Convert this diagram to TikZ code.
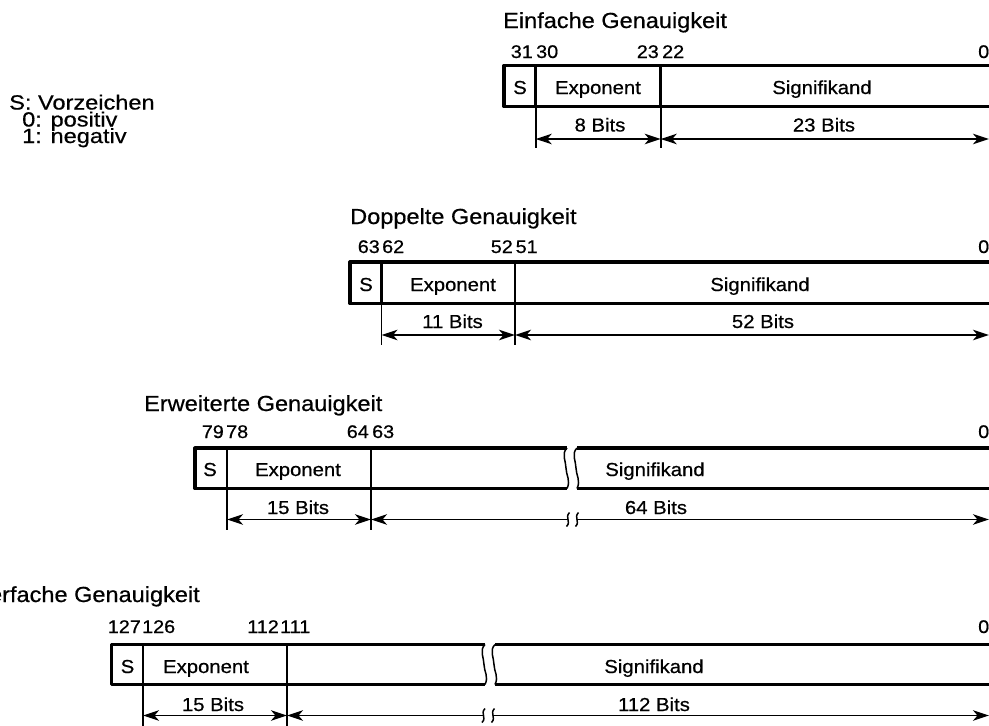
\documentclass[tikz,border=0pt]{standalone}
\usepackage{fontspec}
\setmainfont[FakeStretch=1.08, FakeBold=0.6]{Liberation Sans}
\newfontfamily\legfont[FakeStretch=1.15, FakeBold=0.6]{Liberation Sans}
\usetikzlibrary{arrows.meta}
\tikzset{
  box/.style={line width=3.2pt, line join=round},
  divider/.style={line width=2.8pt},
  ticklin/.style={line width=1.6pt},
  brk/.style={line width=1.5pt},
  headtip/.tip={Stealth[length=16pt,width=10.5pt,inset=4.5pt]},
  dimarrow/.style={line width=1.8pt, {headtip}-{headtip}},
  dimright/.style={line width=1.8pt, -{headtip}},
  dimleft/.style={line width=1.8pt, {headtip}-},
  ttl/.style={font=\fontsize{21.8}{21.8}\selectfont, inner sep=0pt, anchor=base west},
  legtxt/.style={font=\legfont\fontsize{20.5}{20.5}\selectfont, inner sep=0pt, anchor=base west},
  bitnum/.style={font=\fontsize{18.3}{18.3}\selectfont, inner sep=0pt},
  lbl/.style={font=\fontsize{18.8}{18.8}\selectfont, inner sep=0pt, anchor=base},
}
\begin{document}
\begin{tikzpicture}[x=1pt,y=-1pt]
\clip (0,0) rectangle (989,726);

% Legend
\node[legtxt] (leg1) at (9,109.5) {S: Vorzeichen};
\node[legtxt] (leg2) at (22,126.5) {0: positiv};
\node[legtxt] (leg3) at (22,143) {1: negativ};

% ================= Box 1 =================
\node[ttl] (t1) at (503,28) {Einfache Genauigkeit};
\node[bitnum, anchor=base east] (n1a) at (533,58) {31};
\node[bitnum, anchor=base west] (n1b) at (536,58) {30};
\node[bitnum, anchor=base east] (n1c) at (659,58) {23};
\node[bitnum, anchor=base west] (n1d) at (662,58) {22};
\node[bitnum, anchor=base west] (n1e) at (978,58) {0};
\coordinate (a1tl) at (504,65.5);
\coordinate (a1bl) at (504,106.5);
\coordinate (a1tr) at (995,65.5);
\coordinate (a1br) at (995,106.5);
\draw[box] (a1tr) -- (a1tl) -- (a1bl) -- (a1br);
\coordinate (a1St) at (535.7,65.5);
\coordinate (a1Sb) at (535.7,106.5);
\coordinate (a1Sd) at (535.7,148);
\coordinate (a1Et) at (660.7,65.5);
\coordinate (a1Eb) at (660.7,106.5);
\coordinate (a1Ed) at (660.7,148);
\draw[divider] (a1St) -- (a1Sb);
\draw[divider] (a1Et) -- (a1Eb);
\draw[ticklin] (a1Sb) -- (a1Sd);
\draw[ticklin] (a1Eb) -- (a1Ed);
\coordinate (a1Sa) at (535.7,139);
\coordinate (a1Ea) at (660.7,139);
\coordinate (a1Ra) at (989,139);
\draw[dimarrow] (a1Sa) -- (a1Ea);
\draw[dimarrow] (a1Ea) -- (a1Ra);
\node[lbl] (s1) at (520,94) {S};
\node[lbl] (e1) at (598,94) {Exponent};
\node[lbl] (m1) at (822,94) {Signifikand};
\node[lbl] (d1a) at (600,131.5) {8 Bits};
\node[lbl] (d1b) at (824,131.5) {23 Bits};

% ================= Box 2 =================
\node[ttl] (t2) at (350,224) {Doppelte Genauigkeit};
\node[bitnum, anchor=base east] (n2a) at (380,253) {63};
\node[bitnum, anchor=base west] (n2b) at (382,253) {62};
\node[bitnum, anchor=base east] (n2c) at (513,253) {52};
\node[bitnum, anchor=base west] (n2d) at (515.5,253) {51};
\node[bitnum, anchor=base west] (n2e) at (978,253) {0};
\coordinate (a2tl) at (350,262);
\coordinate (a2bl) at (350,303.5);
\coordinate (a2tr) at (995,262);
\coordinate (a2br) at (995,303.5);
\draw[box] (a2tr) -- (a2tl) -- (a2bl) -- (a2br);
\coordinate (a2St) at (381.5,262);
\coordinate (a2Sb) at (381.5,303.5);
\coordinate (a2Sd) at (381.5,345);
\coordinate (a2Et) at (515,262);
\coordinate (a2Eb) at (515,303.5);
\coordinate (a2Ed) at (515,345);
\draw[divider] (a2St) -- (a2Sb);
\draw[divider] (a2Et) -- (a2Eb);
\draw[ticklin] (a2Sb) -- (a2Sd);
\draw[ticklin] (a2Eb) -- (a2Ed);
\coordinate (a2Sa) at (381.5,335);
\coordinate (a2Ea) at (515,335);
\coordinate (a2Ra) at (989,335);
\draw[dimarrow] (a2Sa) -- (a2Ea);
\draw[dimarrow] (a2Ea) -- (a2Ra);
\node[lbl] (s2) at (366,291) {S};
\node[lbl] (e2) at (453,291) {Exponent};
\node[lbl] (m2) at (760,291) {Signifikand};
\node[lbl] (d2a) at (452.5,328) {11 Bits};
\node[lbl] (d2b) at (763,328) {52 Bits};

% ================= Box 3 =================
\node[ttl] (t3) at (144,411) {Erweiterte Genauigkeit};
\node[bitnum, anchor=base east] (n3a) at (224,438) {79};
\node[bitnum, anchor=base west] (n3b) at (226,438) {78};
\node[bitnum, anchor=base east] (n3c) at (369,438) {64};
\node[bitnum, anchor=base west] (n3d) at (372,438) {63};
\node[bitnum, anchor=base west] (n3e) at (978,438) {0};
\coordinate (a3tl) at (195,448);
\coordinate (a3bl) at (195,488.5);
\coordinate (a3kt) at (567,448);
\coordinate (a3kb) at (567,488.5);
\coordinate (a3jt) at (577,448);
\coordinate (a3jb) at (577,488.5);
\coordinate (a3tr) at (995,448);
\coordinate (a3br) at (995,488.5);
\draw[box] (a3kt) -- (a3tl) -- (a3bl) -- (a3kb);
\draw[box] (a3jt) -- (a3tr);
\draw[box] (a3jb) -- (a3br);
\draw[brk] (a3kt) .. controls +(-6,6) and +(0,-7) .. ++(-1,20) .. controls +(0,7) and +(4,-8) .. (a3kb);
\draw[brk] (a3jt) .. controls +(-6,6) and +(0,-7) .. ++(-1,20) .. controls +(0,7) and +(4,-8) .. (a3jb);
\coordinate (a3St) at (227,448);
\coordinate (a3Sb) at (227,488.5);
\coordinate (a3Sd) at (227,530);
\coordinate (a3Et) at (371,448);
\coordinate (a3Eb) at (371,488.5);
\coordinate (a3Ed) at (371,530);
\draw[divider] (a3St) -- (a3Sb);
\draw[divider] (a3Et) -- (a3Eb);
\draw[ticklin] (a3Sb) -- (a3Sd);
\draw[ticklin] (a3Eb) -- (a3Ed);
\coordinate (a3Sa) at (227,519.5);
\coordinate (a3Ea) at (371,519.5);
\coordinate (a3Ka) at (568,519.5);
\coordinate (a3Ja) at (577,519.5);
\coordinate (a3Ra) at (989,519.5);
\draw[dimarrow] (a3Sa) -- (a3Ea);
\draw[dimleft] (a3Ea) -- (a3Ka);
\draw[dimright] (a3Ja) -- (a3Ra);
\draw[brk] (a3Ka) ++(1.5,-7) .. controls +(-3,3) and +(0,-2) .. (a3Ka) .. controls +(0,2) and +(3,-3) .. ++(-1.5,7);
\draw[brk] (a3Ja) ++(1.5,-7) .. controls +(-3,3) and +(0,-2) .. (a3Ja) .. controls +(0,2) and +(3,-3) .. ++(-1.5,7);
\node[lbl] (s3) at (210,476) {S};
\node[lbl] (e3) at (298,476) {Exponent};
\node[lbl] (m3) at (655,476) {Signifikand};
\node[lbl] (d3a) at (298,514) {15 Bits};
\node[lbl] (d3b) at (656,514) {64 Bits};

% ================= Box 4 =================
\node[ttl, anchor=base east] (t4) at (200,602) {Vierfache Genauigkeit};
\node[bitnum, anchor=base east] (n4a) at (141,633) {127};
\node[bitnum, anchor=base west] (n4b) at (142,633) {126};
\node[bitnum, anchor=base east] (n4c) at (279,633) {112};
\node[bitnum, anchor=base west] (n4d) at (280,633) {111};
\node[bitnum, anchor=base west] (n4e) at (978,633) {0};
\coordinate (a4tl) at (111.5,644.5);
\coordinate (a4bl) at (111.5,684.5);
\coordinate (a4kt) at (485,644.5);
\coordinate (a4kb) at (485,684.5);
\coordinate (a4jt) at (495,644.5);
\coordinate (a4jb) at (495,684.5);
\coordinate (a4tr) at (995,644.5);
\coordinate (a4br) at (995,684.5);
\draw[box] (a4kt) -- (a4tl) -- (a4bl) -- (a4kb);
\draw[box] (a4jt) -- (a4tr);
\draw[box] (a4jb) -- (a4br);
\draw[brk] (a4kt) .. controls +(-6,6) and +(0,-7) .. ++(-1,20) .. controls +(0,7) and +(4,-8) .. (a4kb);
\draw[brk] (a4jt) .. controls +(-6,6) and +(0,-7) .. ++(-1,20) .. controls +(0,7) and +(4,-8) .. (a4jb);
\coordinate (a4St) at (143,644.5);
\coordinate (a4Sb) at (143,684.5);
\coordinate (a4Sd) at (143,730);
\coordinate (a4Et) at (287,644.5);
\coordinate (a4Eb) at (287,684.5);
\coordinate (a4Ed) at (287,730);
\draw[divider] (a4St) -- (a4Sb);
\draw[divider] (a4Et) -- (a4Eb);
\draw[ticklin] (a4Sb) -- (a4Sd);
\draw[ticklin] (a4Eb) -- (a4Ed);
\coordinate (a4Sa) at (143,715.5);
\coordinate (a4Ea) at (287,715.5);
\coordinate (a4Ka) at (483.5,715.5);
\coordinate (a4Ja) at (493,715.5);
\coordinate (a4Ra) at (989,715.5);
\draw[dimarrow] (a4Sa) -- (a4Ea);
\draw[dimleft] (a4Ea) -- (a4Ka);
\draw[dimright] (a4Ja) -- (a4Ra);
\draw[brk] (a4Ka) ++(1.5,-7) .. controls +(-3,3) and +(0,-2) .. (a4Ka) .. controls +(0,2) and +(3,-3) .. ++(-1.5,7);
\draw[brk] (a4Ja) ++(1.5,-7) .. controls +(-3,3) and +(0,-2) .. (a4Ja) .. controls +(0,2) and +(3,-3) .. ++(-1.5,7);
\node[lbl] (s4) at (127.5,673) {S};
\node[lbl] (e4) at (206,673) {Exponent};
\node[lbl] (m4) at (654,673) {Signifikand};
\node[lbl] (d4a) at (213,711) {15 Bits};
\node[lbl] (d4b) at (654,711) {112 Bits};
\end{tikzpicture}
\end{document}
